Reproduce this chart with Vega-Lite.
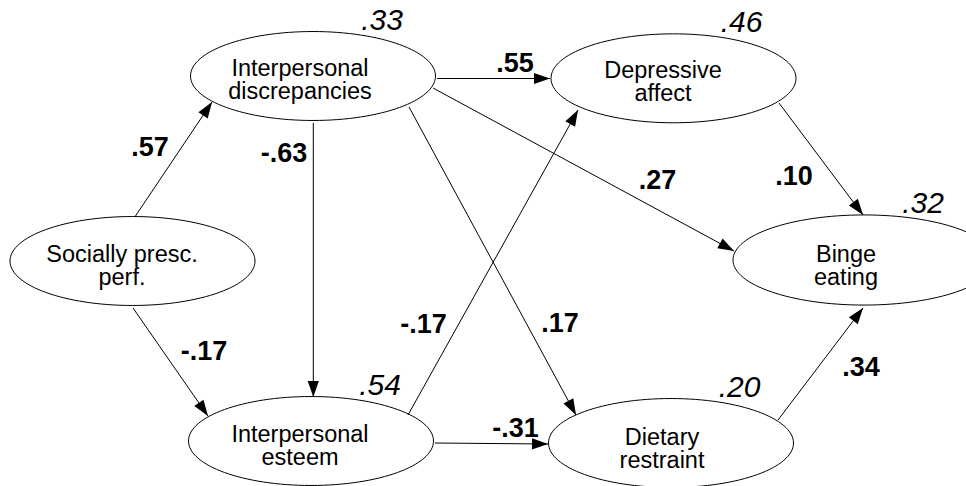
{
  "$schema": "https://vega.github.io/schema/vega-lite/v6.json",
  "width": 966,
  "height": 486,
  "autosize": "none",
  "padding": 0,
  "background": "white",
  "config": {"view": {"stroke": null}},
  "datasets": {
    "nodes": [
      {"node": "Interpersonal discrepancies", "label": "Interpersonal\ndiscrepancies", "cx": 313, "cy": 76, "tx": 300, "ty": 76, "r2": ".33", "rx": 382, "ry": 30},
      {"node": "Depressive affect", "label": "Depressive\naffect", "cx": 673.5, "cy": 78.3, "tx": 663, "ty": 77.7, "r2": ".46", "rx": 741.5, "ry": 32},
      {"node": "Socially presc. perf.", "label": "Socially presc.\nperf.", "cx": 132.5, "cy": 261, "tx": 122, "ty": 261.7, "r2": "", "rx": 0, "ry": 0},
      {"node": "Binge eating", "label": "Binge\neating", "cx": 864, "cy": 260, "tx": 846, "ty": 261.7, "r2": ".32", "rx": 923, "ry": 213},
      {"node": "Interpersonal esteem", "label": "Interpersonal\nesteem", "cx": 311, "cy": 441, "tx": 300, "ty": 442, "r2": ".54", "rx": 380, "ry": 394.7},
      {"node": "Dietary restraint", "label": "Dietary\nrestraint", "cx": 671, "cy": 443, "tx": 662, "ty": 445, "r2": ".20", "rx": 739.5, "ry": 397}
    ],
    "edges": [
      {"from": "Socially presc. perf.", "to": "Interpersonal discrepancies", "x1": 135, "y1": 216.7, "x2": 212, "y2": 102, "coef": ".57", "lx": 150, "ly": 156},
      {"from": "Socially presc. perf.", "to": "Interpersonal esteem", "x1": 133, "y1": 308, "x2": 208, "y2": 416, "coef": "-.17", "lx": 204, "ly": 360},
      {"from": "Interpersonal discrepancies", "to": "Depressive affect", "x1": 437, "y1": 78.5, "x2": 550, "y2": 78.5, "coef": ".55", "lx": 515, "ly": 72},
      {"from": "Interpersonal discrepancies", "to": "Binge eating", "x1": 433, "y1": 88, "x2": 734, "y2": 251, "coef": ".27", "lx": 657.5, "ly": 189},
      {"from": "Interpersonal discrepancies", "to": "Dietary restraint", "x1": 409, "y1": 107, "x2": 576, "y2": 415, "coef": ".17", "lx": 560, "ly": 332},
      {"from": "Interpersonal discrepancies", "to": "Interpersonal esteem", "x1": 313.3, "y1": 123, "x2": 313.3, "y2": 397, "coef": "-.63", "lx": 284, "ly": 162},
      {"from": "Interpersonal esteem", "to": "Depressive affect", "x1": 408, "y1": 415, "x2": 578, "y2": 110, "coef": "-.17", "lx": 423.5, "ly": 333},
      {"from": "Interpersonal esteem", "to": "Dietary restraint", "x1": 435, "y1": 443, "x2": 548, "y2": 444, "coef": "-.31", "lx": 515.5, "ly": 437},
      {"from": "Depressive affect", "to": "Binge eating", "x1": 779, "y1": 103, "x2": 863, "y2": 215, "coef": ".10", "lx": 794, "ly": 185},
      {"from": "Dietary restraint", "to": "Binge eating", "x1": 778, "y1": 420, "x2": 863, "y2": 308, "coef": ".34", "lx": 861, "ly": 376}
    ]
  },
  "encoding": {},
  "layer": [
    {
      "data": {"name": "nodes"},
      "transform": [{"filter": "datum.node !== 'Binge eating'"}],
      "mark": {
        "type": "point",
        "shape": "M -1 0 C -1 -0.2005 -0.5523 -0.363 0 -0.363 C 0.5523 -0.363 1 -0.2005 1 0 C 1 0.2005 0.5523 0.363 0 0.363 C -0.5523 0.363 -1 0.2005 -1 0 Z",
        "filled": true,
        "fill": "white",
        "stroke": "black",
        "strokeWidth": 1,
        "opacity": 1,
        "size": 60025
      },
      "encoding": {
        "x": {"field": "cx", "type": "quantitative", "scale": {"domain": [0, 966], "nice": false, "zero": false}, "axis": null},
        "y": {"field": "cy", "type": "quantitative", "scale": {"domain": [0, 486], "nice": false, "zero": false, "reverse": true}, "axis": null}
      }
    },
    {
      "data": {"name": "nodes"},
      "transform": [{"filter": "datum.node === 'Binge eating'"}],
      "mark": {
        "type": "point",
        "shape": "M -1 0 C -1 -0.19 -0.5523 -0.344 0 -0.344 C 0.5523 -0.344 1 -0.19 1 0 C 1 0.19 0.5523 0.344 0 0.344 C -0.5523 0.344 -1 0.19 -1 0 Z",
        "filled": true,
        "fill": "white",
        "stroke": "black",
        "strokeWidth": 1,
        "opacity": 1,
        "size": 68644
      },
      "encoding": {
        "x": {"field": "cx", "type": "quantitative", "scale": {"domain": [0, 966], "nice": false, "zero": false}, "axis": null},
        "y": {"field": "cy", "type": "quantitative", "scale": {"domain": [0, 486], "nice": false, "zero": false, "reverse": true}, "axis": null}
      }
    },
    {
      "data": {"name": "edges"},
      "mark": {"type": "rule", "color": "black", "strokeWidth": 1},
      "encoding": {
        "x": {"field": "x1", "type": "quantitative"},
        "y": {"field": "y1", "type": "quantitative"},
        "x2": {"field": "x2"},
        "y2": {"field": "y2"}
      }
    },
    {
      "data": {"name": "edges"},
      "transform": [{"calculate": "atan2(datum.y2 - datum.y1, datum.x2 - datum.x1) * 180 / PI", "as": "angle"}],
      "mark": {
        "type": "point",
        "shape": "M 0 0 L -2 -0.7 L -2 0.7 Z",
        "filled": true,
        "color": "black",
        "strokeWidth": 0,
        "opacity": 1,
        "size": 256
      },
      "encoding": {
        "x": {"field": "x2", "type": "quantitative"},
        "y": {"field": "y2", "type": "quantitative"},
        "angle": {"field": "angle", "type": "quantitative", "scale": null}
      }
    },
    {
      "data": {"name": "nodes"},
      "mark": {"type": "text", "font": "Liberation Sans", "fontSize": 23.5, "lineHeight": 23, "lineBreak": "\n", "align": "center", "baseline": "alphabetic", "color": "black"},
      "encoding": {
        "x": {"field": "tx", "type": "quantitative"},
        "y": {"field": "ty", "type": "quantitative"},
        "text": {"field": "label"}
      }
    },
    {
      "data": {"name": "edges"},
      "mark": {"type": "text", "font": "Liberation Sans", "fontSize": 27, "fontWeight": "bold", "align": "center", "baseline": "alphabetic", "color": "black"},
      "encoding": {
        "x": {"field": "lx", "type": "quantitative"},
        "y": {"field": "ly", "type": "quantitative"},
        "text": {"field": "coef"}
      }
    },
    {
      "data": {"name": "nodes"},
      "transform": [{"filter": "datum.r2 !== ''"}],
      "mark": {"type": "text", "font": "Liberation Sans", "fontSize": 30, "fontStyle": "italic", "align": "center", "baseline": "alphabetic", "color": "black"},
      "encoding": {
        "x": {"field": "rx", "type": "quantitative"},
        "y": {"field": "ry", "type": "quantitative"},
        "text": {"field": "r2"}
      }
    }
  ]
}
